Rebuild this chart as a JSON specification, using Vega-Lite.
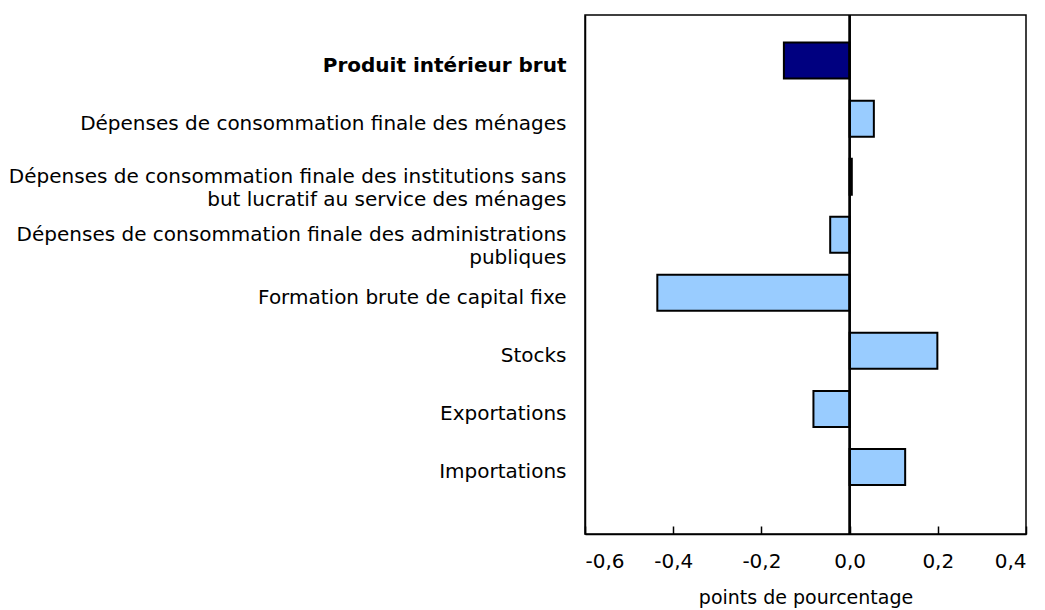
{
  "$schema": "https://vega.github.io/schema/vega-lite/v6.json",
  "width": 441,
  "height": 519,
  "autosize": "none",
  "padding": {"left": 585, "top": 15, "right": 19, "bottom": 76},
  "config": {
    "font": "DejaVu Sans",
    "view": {"stroke": "black", "strokeWidth": 1.5},
    "background": "white"
  },
  "data": {
    "values": [
      {"cat": "Produit intérieur brut", "value": -0.149, "type": "total"},
      {"cat": "Dépenses de consommation finale des ménages", "value": 0.055, "type": "comp"},
      {"cat": "Dépenses de consommation finale des institutions sans|but lucratif au service des ménages", "value": 0.005, "type": "comp"},
      {"cat": "Dépenses de consommation finale des administrations|publiques", "value": -0.044, "type": "comp"},
      {"cat": "Formation brute de capital fixe", "value": -0.436, "type": "comp"},
      {"cat": "Stocks", "value": 0.199, "type": "comp"},
      {"cat": "Exportations", "value": -0.082, "type": "comp"},
      {"cat": "Importations", "value": 0.126, "type": "comp"}
    ]
  },
  "layer": [
    {
      "mark": {"type": "bar", "stroke": "black", "strokeWidth": 2},
      "encoding": {
        "y": {
          "field": "cat",
          "type": "nominal",
          "sort": null,
          "scale": {"paddingInner": 0.38, "paddingOuter": 0.66, "align": 0.36},
          "axis": {
            "title": null,
            "ticks": false,
            "domainColor": "black",
            "domainWidth": 1.5,
            "labelPadding": 19,
            "labelFontSize": 20,
            "labelColor": "black",
            "labelLineHeight": 23,
            "labelLimit": 0,
            "labelExpr": "split(datum.value, '|')",
            "labelFontWeight": {"condition": {"test": "datum.value == 'Produit intérieur brut'", "value": "bold"}, "value": "normal"},
            "labelOffset": {"condition": {"test": "indexof(datum.value, '|') >= 0", "value": 0}, "value": 5}
          }
        },
        "x": {
          "field": "value",
          "type": "quantitative",
          "scale": {"domain": [-0.6, 0.4], "nice": false},
          "axis": {
            "title": "points de pourcentage",
            "titleFontSize": 19,
            "titleFontWeight": "normal",
            "titleColor": "black",
            "titlePadding": 17,
            "values": [-0.6, -0.4, -0.2, 0, 0.2, 0.4],
            "labelExpr": "replace(replace(format(datum.value, '.1f'), '.', ','), '−', '-')",
            "labelFontSize": 20,
            "labelColor": "black",
            "labelPadding": 25,
            "tickSize": -8,
            "tickColor": "black",
            "tickWidth": 1.5,
            "domainColor": "black",
            "domainWidth": 1.5,
            "grid": false
          }
        },
        "color": {
          "field": "type",
          "type": "nominal",
          "scale": {"domain": ["total", "comp"], "range": ["#000080", "#99CCFF"]},
          "legend": null
        }
      }
    },
    {
      "mark": {"type": "rule", "color": "black", "strokeWidth": 1.5},
      "encoding": {"x": {"datum": 0}}
    }
  ]
}
